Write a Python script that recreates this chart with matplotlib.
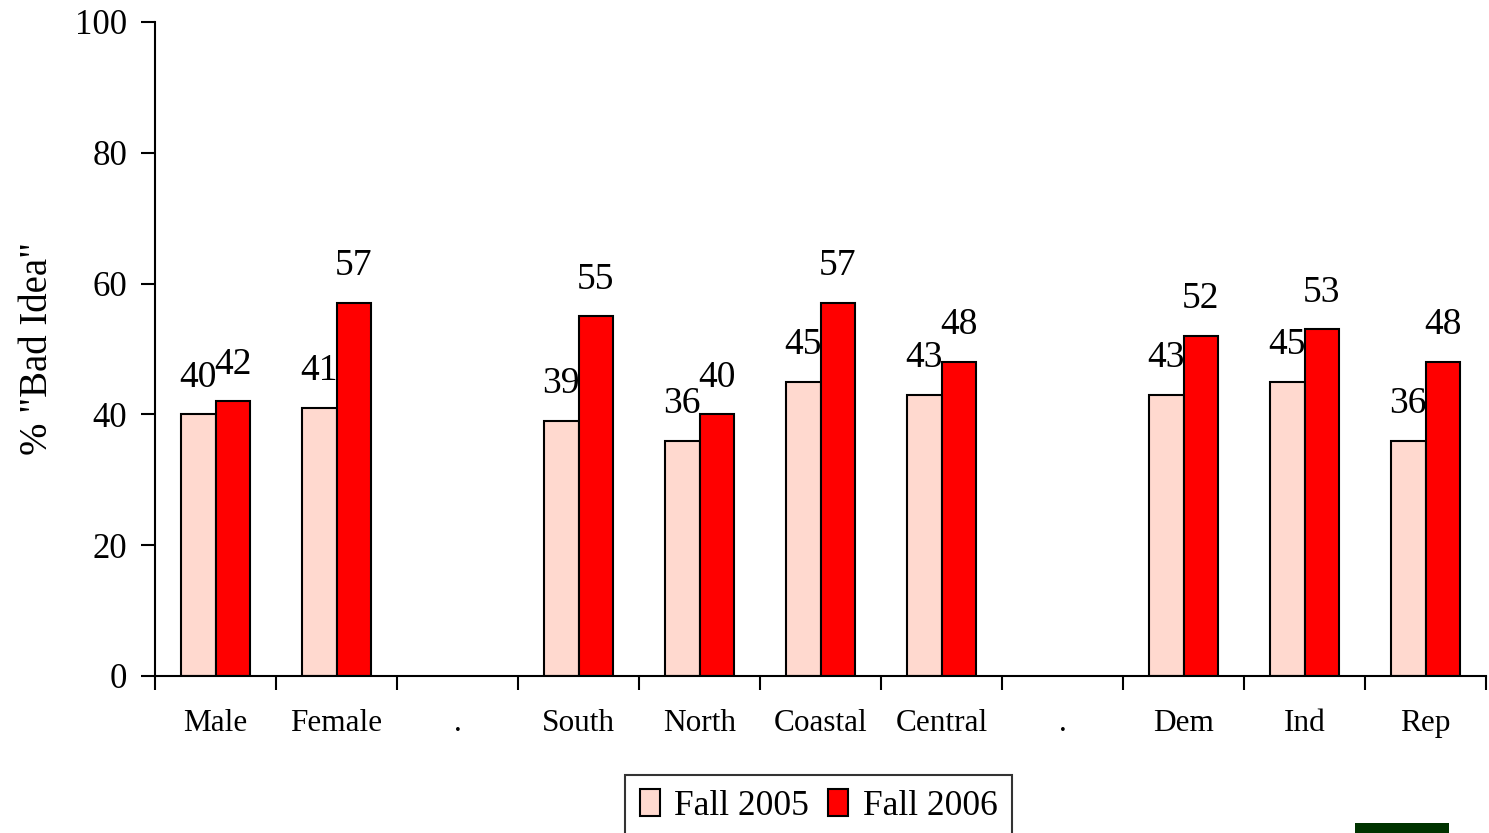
import numpy as np
import matplotlib.pyplot as plt
from matplotlib.patches import Rectangle

# 数据
categories = ["Male", "Female", ".", "South", "North", "Coastal", "Central", ".", "Dem", "Ind", "Rep"]
fall_2005 = [40, 41, None, 39, 36, 45, 43, None, 43, 45, 36]
fall_2006 = [42, 57, None, 55, 40, 57, 48, None, 52, 53, 48]
series_names = ["Fall 2005", "Fall 2006"]
y_ticks = [0, 20, 40, 60, 80, 100]

plt.rcParams['font.family'] = ['Liberation Serif', 'DejaVu Serif']

fig = plt.figure(figsize=(14.89, 8.33), dpi=100)
ax = fig.add_axes([0.1041, 0.1885, 0.8939, 0.7851])

x = np.arange(len(categories))
w = 0.285
v05 = np.array([np.nan if v is None else v for v in fall_2005], dtype=float)
v06 = np.array([np.nan if v is None else v for v in fall_2006], dtype=float)

b1 = ax.bar(x - w / 2, v05, w, color="#FFD9CF", edgecolor="black", linewidth=1.5, label=series_names[0])
b2 = ax.bar(x + w / 2, v06, w, color="#FF0000", edgecolor="black", linewidth=1.5, label=series_names[1])

# 数值标签
for xs, vals in [(x - w / 2, v05), (x + w / 2, v06)]:
    for xi, v in zip(xs, vals):
        if np.isnan(v):
            continue
        ax.annotate(f"{int(v)}", (xi, v), xytext=(0, 37), textcoords="offset pixels",
                    ha="center", va="center", fontsize=27)

ax.set_xlim(-0.5, len(categories) - 0.5)
ax.set_ylim(0, 100)
ax.set_yticks(y_ticks)
ax.tick_params(axis="y", labelsize=25, length=10, width=1.5, pad=10)

# x轴：标签在中间，刻度线在分界处
ax.set_xticks(x)
ax.set_xticklabels(categories, fontsize=22.5)
ax.set_xticks(np.arange(len(categories) + 1) - 0.5, minor=True)
ax.tick_params(axis="x", which="major", length=0, pad=24)
ax.tick_params(axis="x", which="minor", length=10, width=1.5)

for s in ["top", "right"]:
    ax.spines[s].set_visible(False)
for s in ["left", "bottom"]:
    ax.spines[s].set_linewidth(1.5)

ax.set_ylabel('% "Bad Idea"', fontsize=28, labelpad=14)

leg = fig.legend(handles=[b1, b2], loc="upper left", bbox_to_anchor=(0.42, 0.0696),
                 ncol=2, fontsize=25.5, frameon=True, fancybox=False, edgecolor="black",
                 handlelength=0.57, handleheight=0.8, handletextpad=0.4, columnspacing=0.55,
                 borderpad=0.4, borderaxespad=0)
leg.get_frame().set_linewidth(1.5)

fig.patches.append(Rectangle((1355 / 1489, 0), 94 / 1489, 10 / 833, transform=fig.transFigure,
                             facecolor="#003300", edgecolor="none"))

plt.savefig("out.png", dpi=100)
